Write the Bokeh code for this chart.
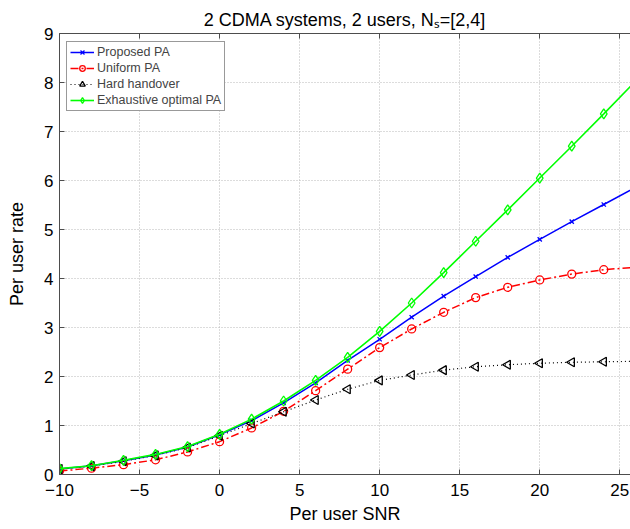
from bokeh.plotting import figure
from bokeh.models import (Legend, LegendItem, Title, LinearAxis, FixedTicker, Range1d)
from bokeh.embed import file_html
from bokeh.resources import INLINE
import math

# ---- data ----
snr = [-10, -8, -6, -4, -2, 0, 2, 4, 6, 8, 10, 12, 14, 16, 18, 20, 22, 24, 26]
proposed_pa = [0.11, 0.18, 0.28, 0.40, 0.56, 0.81, 1.10, 1.46, 1.87, 2.33, 2.76,
               3.21, 3.64, 4.04, 4.43, 4.80, 5.16, 5.51, 5.86]
uniform_pa = [0.07, 0.13, 0.20, 0.30, 0.46, 0.67, 0.95, 1.29, 1.71, 2.15, 2.59,
              2.97, 3.31, 3.61, 3.82, 3.97, 4.09, 4.18, 4.23]
hard_handover = [0.11, 0.17, 0.27, 0.39, 0.55, 0.79, 1.04, 1.28, 1.52, 1.74, 1.92,
                 2.03, 2.13, 2.20, 2.24, 2.27, 2.29, 2.30, 2.31]
exhaustive_pa = [0.12, 0.18, 0.29, 0.41, 0.57, 0.82, 1.13, 1.50, 1.92, 2.39, 2.92,
                 3.50, 4.12, 4.76, 5.40, 6.05, 6.70, 7.36, 8.03]

x_ticks = [-10, -5, 0, 5, 10, 15, 20, 25]
x_tick_labels = ["\u221210", "\u22125", "0", "5", "10", "15", "20", "25"]
y_ticks = [0, 1, 2, 3, 4, 5, 6, 7, 8, 9]

title_text = "2 CDMA systems, 2 users, N\u209b=[2,4]"

FONT = "Liberation Sans"
AX = "#4d4d4d"

p = figure(width=630, height=529, x_range=Range1d(-10, 25.67), y_range=Range1d(0, 9),
           output_backend="svg", toolbar_location=None,
           min_border_left=59, min_border_right=0, min_border_top=33, min_border_bottom=55)
p.outline_line_color = None
p.background_fill_color = "white"

p.xaxis.ticker = FixedTicker(ticks=x_ticks)
p.xaxis.major_label_overrides = {t: l for t, l in zip(x_ticks, x_tick_labels)}
p.yaxis.ticker = FixedTicker(ticks=y_ticks)
for ax in (p.xaxis[0], p.yaxis[0]):
    ax.axis_line_color = AX
    ax.major_tick_line_color = AX
    ax.major_tick_in = 5
    ax.major_tick_out = 0
    ax.minor_tick_line_color = None
    ax.major_label_text_font = FONT
    ax.major_label_text_font_size = "17px"
    ax.major_label_text_color = "black"
    ax.axis_label_text_font = FONT
    ax.axis_label_text_font_size = "18px"
    ax.axis_label_text_font_style = "normal"
    ax.axis_label_text_color = "black"
p.xaxis.axis_label = "Per user SNR"
p.yaxis.axis_label = "Per user rate"
p.xaxis.major_label_standoff = 9
p.xaxis.axis_label_standoff = 5
p.yaxis.major_label_standoff = 6
p.yaxis.axis_label_standoff = 14

# top border with inward ticks (no labels: ticks are given as minor ticks only)
top_ax = LinearAxis(ticker=FixedTicker(ticks=[], minor_ticks=x_ticks),
                    minor_tick_in=5, minor_tick_out=0, minor_tick_line_color=AX,
                    major_tick_line_color=None, axis_line_color=AX,
                    major_label_standoff=0)
p.add_layout(top_ax, "above")

p.title = None
p.add_layout(Title(text=title_text, align="center", text_font=FONT, text_font_size="18px",
                   text_font_style="normal", text_color="black", standoff=7), "above")

p.grid.grid_line_color = "#b8b8b8"
p.grid.grid_line_dash = "1 2"
p.grid.grid_line_width = 1

n = len(snr) - 1  # markers only for the points inside the visible range

bl = p.line(snr, proposed_pa, line_color="#0000ff", line_width=1.5)
bm = p.scatter(snr[:n], proposed_pa[:n], marker="x", size=6, line_color="#0000ff", line_width=1.3)

rl = p.line(snr, uniform_pa, line_color="#ff0000", line_width=1.5, line_dash="8 3 2 3")
rm = p.scatter(snr[:n], uniform_pa[:n], marker="circle", size=8, fill_color=None,
               line_color="#ff0000", line_width=1.3)

kl = p.line(snr, hard_handover, line_color="#000000", line_width=1.2, line_dash="1 3")
km = p.scatter(snr[:n], hard_handover[:n], marker="triangle", angle=math.pi / 2, size=9,
               fill_color=None, line_color="#000000", line_width=1.3)

gl = p.line(snr, exhaustive_pa, line_color="#00ff00", line_width=1.6)
gm = p.scatter(snr[:n], exhaustive_pa[:n], marker="diamond", size=10, fill_color=None,
               line_color="#00ff00", line_width=1.3)

legend = Legend(items=[
    LegendItem(label="Proposed PA", renderers=[bl, bm]),
    LegendItem(label="Uniform PA", renderers=[rl, rm]),
    LegendItem(label="Hard handover", renderers=[kl, km]),
    LegendItem(label="Exhaustive optimal PA", renderers=[gl, gm]),
], location=(7, 363))
legend.label_text_font = FONT
legend.label_text_font_size = "12.5px"
legend.glyph_height = 14
legend.glyph_width = 24
legend.label_height = 14
legend.spacing = 2
legend.padding = 3
legend.label_standoff = 3
legend.margin = 0
legend.border_line_color = "#333333"
legend.border_line_width = 1
legend.background_fill_alpha = 1
p.add_layout(legend)

open("out.html", "w").write(file_html(p, INLINE))
